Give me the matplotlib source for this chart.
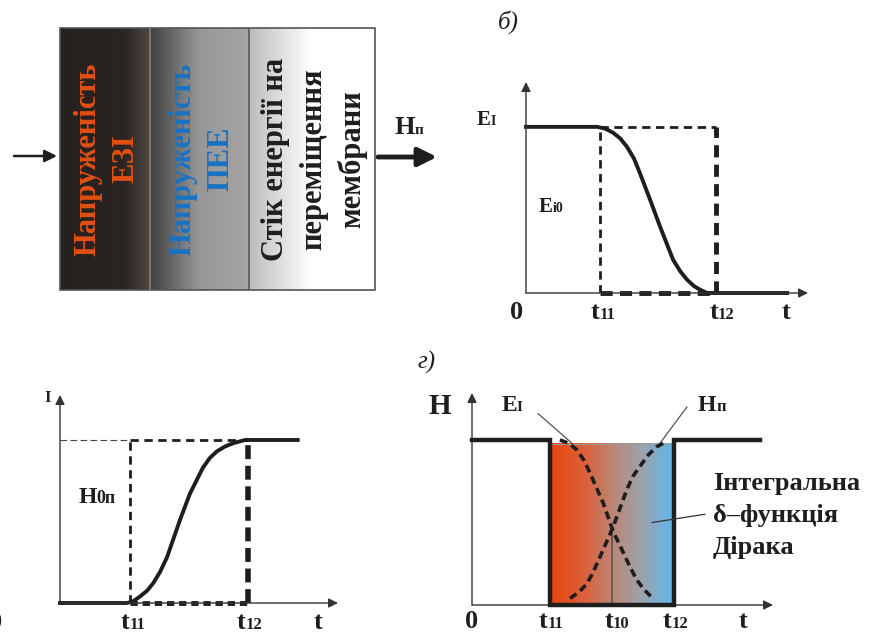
import numpy as np
import matplotlib.pyplot as plt
from matplotlib.colors import LinearSegmentedColormap
from matplotlib.offsetbox import TextArea, HPacker, AnnotationBbox
from matplotlib.patches import Rectangle

W, H = 877, 636
SERIF = 'Liberation Serif'
INK = '#1e1e1e'

# ---- data ----
box_titles = ['Напруженість\nЕЗІ', 'Напруженість\nПЕЕ', 'Стік енергії на\nпереміщення\nмембрани']
box_colors = ['#e2500f', '#1a72c4', '#1e1e1e']
box_edges = [0, 90, 189, 315]

# б) E_I drops from 1 to 0 between t11 and t12
b_t11, b_t12 = 2.55, 6.55
b_t = [0, 2.45, 2.72, 3.0, 3.25, 3.48, 3.72, 3.93, 4.28, 4.62, 5.07, 5.32, 5.55, 5.8, 6.0, 6.24, 9.0]
b_e = [1, 1.0, 0.99, 0.965, 0.93, 0.88, 0.81, 0.72, 0.56, 0.40, 0.20, 0.13, 0.08, 0.04, 0.02, 0.0, 0]

# в) H_п rises from 0 to 1 between t11 and t12
v_t11, v_t12 = 2.41, 6.48
v_t = [0, 2.31, 2.52, 2.76, 3.0, 3.21, 3.45, 3.69, 4.14, 4.48, 4.93, 5.17, 5.41, 5.69, 5.97, 6.38, 8.2]
v_h = [0, 0, 0.01, 0.04, 0.075, 0.12, 0.19, 0.28, 0.51, 0.67, 0.83, 0.89, 0.93, 0.96, 0.98, 1.0, 1.0]

# г) both together, integral delta-function
g_t11, g_t10, g_t12 = 2.69, 4.83, 6.97
g_step_t = [0, g_t11, g_t11, g_t12, g_t12, 9.93]
g_step_h = [1, 1, 0, 0, 1, 1]
g_e_t = [3.03, 3.35, 3.62, 3.85, 4.07, 4.52, 4.86, 5.21, 5.45, 5.69, 5.95, 6.24]
g_e = [1.0, 0.98, 0.94, 0.88, 0.80, 0.62, 0.45, 0.32, 0.23, 0.15, 0.09, 0.04]
g_h_t = [3.38, 3.7, 3.97, 4.18, 4.41, 4.86, 5.34, 5.55, 5.79, 6.08, 6.38, 6.59]
g_h = [0.04, 0.08, 0.13, 0.20, 0.29, 0.47, 0.70, 0.78, 0.84, 0.91, 0.96, 0.98]
g_note = 'Інтегральна\nδ–функція\nДірака'

fig = plt.figure(figsize=(W / 100, H / 100), dpi=100)


def px_axes(x0, y0, x1, y1):
    return fig.add_axes([x0 / W, 1 - y1 / H, (x1 - x0) / W, (y1 - y0) / H])


def arrow(ax, start, end, lw=1.0, scale=14, color='#333'):
    ax.annotate('', xy=end, xytext=start, annotation_clip=False,
                arrowprops=dict(arrowstyle='-|>', color=color, lw=lw, mutation_scale=scale,
                                shrinkA=0, shrinkB=0))


def draw_axes(ax, xmax, ymax):
    ax.set_xlim(0, xmax)
    ax.set_ylim(0, ymax)
    ax.axis('off')
    arrow(ax, (0, 0), (xmax, 0))
    arrow(ax, (0, 0), (0, ymax))


def label(ax, x, y, main, sub='', size=19, sub_size=12, style='normal'):
    props = dict(fontsize=size, fontweight='bold', family=SERIF, color=INK, style=style)
    parts = [TextArea(main, textprops=props)]
    if sub:
        parts.append(TextArea(sub, textprops=dict(props, fontsize=sub_size)))
    pack = HPacker(children=parts, align='baseline', pad=0, sep=0)
    ax.add_artist(AnnotationBbox(pack, (x, y), xycoords='data', frameon=False,
                                 box_alignment=(0.5, 0.5), annotation_clip=False, pad=0))


# ---- а) the three-layer box ----
ax = px_axes(60, 28, 375, 290)
ax.set_xlim(0, 315)
ax.set_ylim(262, 0)
ax.axis('off')
gray = LinearSegmentedColormap.from_list('box', [
    (0.0, '#25211e'), (0.20, '#2a2522'), (0.285, '#4e4844'), (0.287, '#404040'),
    (0.44, '#979797'), (0.599, '#a4a4a4'), (0.601, '#bcbcbc'), (0.80, '#ffffff'), (1.0, '#ffffff')])
ax.imshow(np.linspace(0, 1, 600)[None, :], cmap=gray, extent=(0, 315, 262, 0), aspect='auto')
ax.add_patch(Rectangle((0, 0), 315, 262, fill=False, ec='#555555', lw=1.2, clip_on=False))
ax.plot([box_edges[1]] * 2, [0, 262], color='#8c7c72', lw=1.2)
ax.plot([box_edges[2]] * 2, [0, 262], color='#555555', lw=1.2)
for i, (txt, col) in enumerate(zip(box_titles, box_colors)):
    ax.text((box_edges[i] + box_edges[i + 1]) / 2 + 2, 131, txt, rotation=90, color=col,
            ha='center', va='center', multialignment='center', fontsize=22,
            fontweight='bold', family=SERIF, linespacing=1.4)
arrow(ax, (-46, 128), (-3, 128), lw=1.8, scale=18, color=INK)
arrow(ax, (318, 129), (377, 129), lw=3.5, scale=28, color=INK)
label(ax, 349, 100, 'Н', 'п', size=19, sub_size=11)

# ---- б) ----
ax = px_axes(526, 82, 808, 293)
draw_axes(ax, 9.72, 1.27)
ax.plot(b_t, b_e, color=INK, lw=2.8, solid_joinstyle='round', clip_on=False)
ax.plot([b_t11, b_t12], [1, 1], color=INK, lw=2, ls=(0, (3, 2)))
ax.plot([b_t11, b_t11], [0, 1], color=INK, lw=2, ls=(0, (3, 2)))
ax.plot([b_t12, b_t12], [0, 1], color=INK, lw=3.5, ls=(0, (2.5, 1.5)), clip_on=False)
ax.plot([b_t11, b_t12], [0, 0], color=INK, lw=3.5, ls=(0, (2.5, 1.5)), clip_on=False)
ax.text(-0.62, 1.63, 'б)', fontsize=18, style='italic', family=SERIF, color=INK,
        ha='center', va='center')
label(ax, -1.38, 1.04, 'Е', 'I', size=15, sub_size=10)
label(ax, 0.86, 0.52, 'Е', 'i0', size=15, sub_size=10)
label(ax, -0.34, -0.115, '0')
label(ax, 2.66, -0.115, 't', '11')
label(ax, 6.76, -0.115, 't', '12')
label(ax, 8.97, -0.115, 't')

# ---- в) ----
ax = px_axes(60, 395, 338, 603)
draw_axes(ax, 9.59, 1.276)
ax.plot([0, v_t11], [1, 1], color='#444444', lw=0.8, ls=(0, (6, 3)))
ax.plot([v_t11, v_t12], [1, 1], color=INK, lw=2, ls=(0, (3, 2)))
ax.plot([v_t11, v_t11], [0, 1], color=INK, lw=2, ls=(0, (3, 2)))
ax.plot([v_t12, v_t12], [0, 1], color=INK, lw=4, ls=(0, (2.5, 1.2)), clip_on=False)
ax.plot([v_t11, v_t12], [0, 0], color=INK, lw=3.5, ls=(0, (1.5, 1)), clip_on=False)
ax.plot(v_t, v_h, color=INK, lw=2.8, solid_joinstyle='round', clip_on=False)
label(ax, -0.41, 1.26, 'I', size=12)
label(ax, 1.28, 0.65, 'Н', '0п', size=17, sub_size=13)
label(ax, -2.24, -0.12, '0')
label(ax, 2.52, -0.12, 't', '11')
label(ax, 6.55, -0.12, 't', '12')
label(ax, 8.9, -0.12, 't')

# ---- г) ----
ax = px_axes(472, 393, 773, 605)
draw_axes(ax, 10.38, 1.285)
fire_ice = LinearSegmentedColormap.from_list('fi', [
    (0.0, '#e8440a'), (0.3, '#d96440'), (0.55, '#b58d80'), (0.75, '#9aa4b0'), (1.0, '#5cbaf0')])
ax.imshow(np.linspace(0, 1, 400)[None, :], cmap=fire_ice, aspect='auto',
          extent=(g_t11, g_t12, 0, 0.976), zorder=1)
ax.plot([g_t11, g_t12], [0.976, 0.976], color='#999999', lw=0.8, zorder=2)
ax.plot([g_t10, g_t10], [0, 0.44], color='#555555', lw=1.2, zorder=2)
ax.plot(g_e_t, g_e, color=INK, lw=2.6, ls=(0, (2.2, 1.3)), zorder=3)
ax.plot(g_h_t, g_h, color=INK, lw=2.6, ls=(0, (2.2, 1.3)), zorder=3)
ax.plot(g_step_t, g_step_h, color=INK, lw=3.2, solid_joinstyle='miter', zorder=4, clip_on=False)
ax.plot([2.28, 3.45], [1.16, 0.98], color='#555555', lw=0.9)
ax.plot([7.41, 6.48], [1.2, 0.98], color='#555555', lw=0.9)
ax.plot([6.21, 8.03], [0.5, 0.55], color='#333333', lw=0.9, zorder=5)
ax.text(-1.55, 1.47, 'г)', fontsize=18, style='italic', family=SERIF, color=INK,
        ha='center', va='center')
label(ax, -1.1, 1.206, 'Н', size=21)
label(ax, 1.38, 1.21, 'Е', 'I', size=17, sub_size=11)
label(ax, 8.28, 1.21, 'Н', 'п', size=17, sub_size=12)
ax.text(8.31, 0.54, g_note, fontsize=19, fontweight='bold', family=SERIF, color=INK,
        ha='left', va='center', linespacing=1.5)
label(ax, 0, -0.10, '0')
label(ax, 2.72, -0.10, 't', '11')
label(ax, 5.0, -0.10, 't', '10')
label(ax, 7.03, -0.10, 't', '12')
label(ax, 9.34, -0.10, 't')

fig.savefig('out.png', dpi=100, facecolor='white')
